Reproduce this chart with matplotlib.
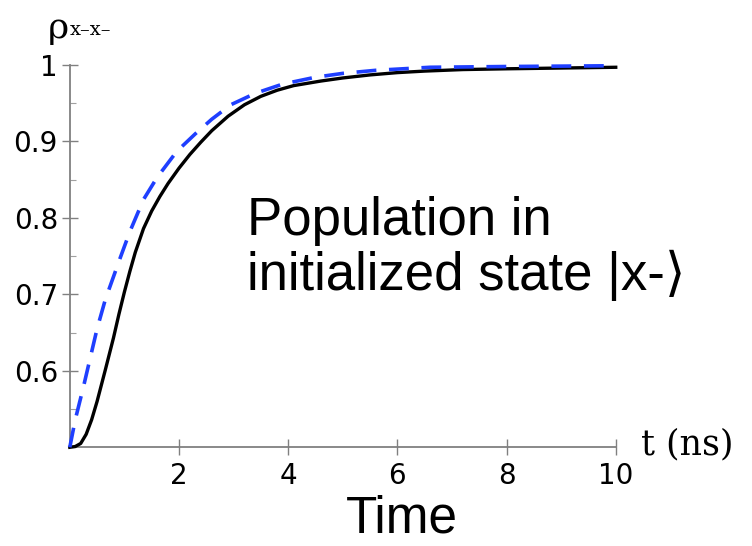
import numpy as np
import matplotlib.pyplot as plt
from matplotlib.ticker import MultipleLocator

# ----------[data]----------
t_solid = [0, 0.1, 0.2, 0.3, 0.4, 0.5, 0.65, 0.8, 0.9, 1.0, 1.1, 1.2, 1.35, 1.5, 1.65, 1.8,
           2.0, 2.2, 2.4, 2.6, 2.9, 3.2, 3.5, 3.8, 4.1, 4.6, 5.0, 5.5, 6.0, 6.5, 7.2, 8.0, 9.0, 10]
rho_solid = [0.5, 0.501, 0.505, 0.517, 0.536, 0.560, 0.601, 0.643, 0.674, 0.703, 0.730, 0.755,
             0.786, 0.809, 0.828, 0.845, 0.865, 0.883, 0.899, 0.914, 0.933, 0.948, 0.959, 0.967,
             0.973, 0.979, 0.983, 0.987, 0.990, 0.992, 0.994, 0.995, 0.996, 0.997]

t_dash = [0, 0.1, 0.25, 0.5, 0.65, 0.92, 1.1, 1.35, 1.6, 1.96, 2.3, 2.6, 2.95, 3.4, 3.9,
          4.5, 5.0, 5.6, 6.6, 8, 10]
rho_dash = [0.5, 0.536, 0.579, 0.655, 0.693, 0.747, 0.782, 0.824, 0.853, 0.887, 0.910, 0.929,
            0.948, 0.963, 0.975, 0.984, 0.989, 0.993, 0.997, 0.998, 0.999]

xticks = [2, 4, 6, 8, 10]
yticks = [0.6, 0.7, 0.8, 0.9, 1.0]
ytick_labels = ['0.6', '0.7', '0.8', '0.9', '1']

# ----------[figure]----------
fig = plt.figure(figsize=(7.52, 5.46), dpi=100)
ax = fig.add_axes([0.0928, 0.1808, 0.726, 0.7002])

ax.plot(t_solid, rho_solid, color='black', lw=2.4, clip_on=False, zorder=3,
        solid_joinstyle='round')
ax.plot(t_dash, rho_dash, color='#1f3fff', lw=2.6, dashes=(5.5, 3.5), clip_on=False, zorder=4)

ax.set_xlim(0, 10)
ax.set_ylim(0.5, 1.0)

for s in ['top', 'right']:
    ax.spines[s].set_visible(False)
for s in ['left', 'bottom']:
    ax.spines[s].set_color('#808080')
    ax.spines[s].set_linewidth(1.3)

ax.set_xticks(xticks)
ax.set_yticks(yticks)
ax.set_yticklabels(ytick_labels)
ax.yaxis.set_minor_locator(MultipleLocator(0.05))
ax.tick_params(axis='both', which='major', direction='inout', length=11, width=1.0,
               color='#808080', labelsize=20, pad=3)
ax.tick_params(axis='y', which='minor', direction='in', length=4, width=0.8, color='#a0a0a0')
ax.tick_params(axis='x', which='major', pad=5)

# ----------[labels]----------
fig.text(0.064, 0.93, 'ρ', family='DejaVu Serif', fontsize=26, va='baseline')
fig.text(0.093, 0.935, 'x–x–', family='DejaVu Serif', fontsize=14, va='baseline')
fig.text(0.853, 0.167, 't (ns)', family='DejaVu Serif', fontsize=25, va='baseline')
fig.text(0.535, 0.024, 'Time', family=['Liberation Sans', 'DejaVu Sans'], fontsize=37,
         ha='center', va='baseline')

ax.text(0.328, 0.570, 'Population in', transform=fig.transFigure,
        family=['Liberation Sans', 'DejaVu Sans'], fontsize=38, va='baseline')
ax.text(0.328, 0.469, 'initialized state |x-⟩', transform=fig.transFigure,
        family=['Liberation Sans', 'DejaVu Sans'], fontsize=38, va='baseline')

fig.savefig('out.png', dpi=100)
